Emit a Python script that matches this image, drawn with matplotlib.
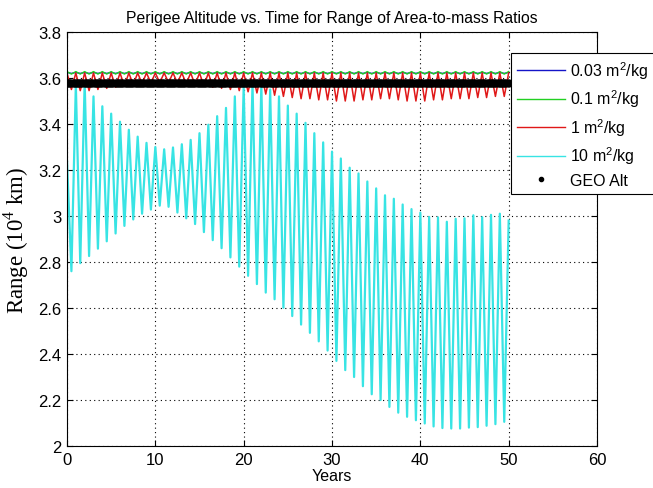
import numpy as np
import matplotlib
matplotlib.use("Agg")
import matplotlib.pyplot as plt
from matplotlib.ticker import FormatStrFormatter
from matplotlib.lines import Line2D

# values, range in 10^4 km
# each curve swings about once a year: maxima on whole years 0..50,
# minima half a year later (0.5..49.5); first/last maxima are the end points
cyan_peaks = [
    3.24,
    3.57, 3.58, 3.52, 3.477, 3.445, 3.41, 3.375, 3.345, 3.318, 3.30,
    3.29, 3.298, 3.312, 3.331, 3.36, 3.397, 3.434, 3.47, 3.52, 3.56,
    3.575, 3.57, 3.55, 3.52, 3.48, 3.445, 3.405, 3.36, 3.32, 3.28,
    3.25, 3.21, 3.185, 3.15, 3.12, 3.09, 3.075, 3.05, 3.03, 3.015,
    2.996, 2.994, 2.975, 2.988, 2.99, 3.003, 2.995, 3.005, 3.01, 2.98,
]
cyan_troughs = [
    2.76, 2.795, 2.826, 2.858, 2.89, 2.924, 2.957, 2.985, 3.01, 3.028,
    3.045, 3.04, 3.015, 2.99, 2.965, 2.93, 2.895, 2.86, 2.82, 2.78,
    2.74, 2.704, 2.667, 2.638, 2.601, 2.565, 2.528, 2.492, 2.455, 2.415,
    2.37, 2.33, 2.30, 2.26, 2.225, 2.20, 2.17, 2.145, 2.127, 2.112,
    2.098, 2.085, 2.078, 2.076, 2.076, 2.08, 2.082, 2.088, 2.095, 2.105,
]
red_peaks = [3.622] * 51
red_troughs = [
    3.55, 3.545, 3.545, 3.55, 3.555, 3.56, 3.565, 3.57, 3.575, 3.578,
    3.58, 3.58, 3.578, 3.575, 3.57, 3.565, 3.56, 3.555, 3.55, 3.545,
    3.54, 3.535, 3.53, 3.525, 3.52, 3.515, 3.51, 3.51, 3.505, 3.505,
    3.50, 3.50, 3.50, 3.505, 3.505, 3.51, 3.51, 3.505, 3.50, 3.50,
    3.50, 3.505, 3.505, 3.51, 3.51, 3.51, 3.515, 3.515, 3.52, 3.52,
]
green_peaks = [3.628] * 51
green_troughs = [3.617] * 50
blue_peaks = [3.624] * 51
blue_troughs = [3.620] * 50

geo_alt = 3.5786
geo_years = [0, 50]

labels = ["0.03 m$^{\\mathregular{2}}$/kg", "0.1 m$^{\\mathregular{2}}$/kg",
          "1 m$^{\\mathregular{2}}$/kg", "10 m$^{\\mathregular{2}}$/kg", "GEO Alt"]
colors = ["#1414c8", "#22d022", "#e01818", "#38e4e4", "black"]

x_ticks = [0, 10, 20, 30, 40, 50, 60]
y_ticks = [2, 2.2, 2.4, 2.6, 2.8, 3, 3.2, 3.4, 3.6, 3.8]


def zigzag(peaks, troughs):
    # interleave maxima and minima on a half-year grid
    t = np.arange(len(peaks) + len(troughs)) * 0.5
    y = np.empty(len(t))
    y[0::2] = peaks
    y[1::2] = troughs
    return t, y


plt.rcParams["font.family"] = ["Liberation Sans", "DejaVu Sans"]

fig = plt.figure(figsize=(6.53, 4.89), dpi=100)
ax = fig.add_axes([67 / 653, 42 / 489, 530 / 653, 414 / 489])

series = [(blue_peaks, blue_troughs), (green_peaks, green_troughs),
          (red_peaks, red_troughs), (cyan_peaks, cyan_troughs)]
widths = [1.0, 1.0, 1.1, 1.6]
for (pk, tr), c, w in zip(series, colors[:4], widths):
    t, y = zigzag(pk, tr)
    ax.plot(t, y, color=c, lw=w)

geo_t = np.linspace(geo_years[0], geo_years[1], 400)
ax.plot(geo_t, np.full(len(geo_t), geo_alt), ".", color="black", ms=9.5)

ax.set_xlim(0, 60)
ax.set_ylim(2, 3.8)
ax.set_xticks(x_ticks)
ax.set_yticks(y_ticks)
ax.yaxis.set_major_formatter(FormatStrFormatter("%g"))
ax.tick_params(direction="in", top=True, right=True, length=4, width=0.8,
               labelsize=12, pad=4)
ax.grid(True, linestyle=(0, (1, 3)), color="black", linewidth=0.8)
for s in ax.spines.values():
    s.set_linewidth(0.8)

ax.set_title("Perigee Altitude vs. Time for Range of Area-to-mass Ratios",
             fontsize=11.3, pad=7)
ax.set_xlabel("Years", fontsize=11.5, labelpad=1)
ax.set_ylabel("Range (10$^{\\mathregular{4}}$ km)", fontsize=16.5,
              family="Liberation Serif", labelpad=5)

handles = [Line2D([], [], color=c, lw=1.0) for c in colors[:4]]
handles.append(Line2D([], [], marker=".", ls="none", color="black", ms=6))
leg = ax.legend(handles, labels, loc="upper left",
                bbox_to_anchor=(511 / 653, 1 - 54 / 489),
                bbox_transform=fig.transFigure, fancybox=False,
                edgecolor="black", framealpha=1, fontsize=11.5,
                handlelength=3.0, handletextpad=0.3, labelspacing=0.42,
                borderpad=0.4, borderaxespad=0)
leg.get_frame().set_linewidth(0.8)

fig.savefig("out.png", dpi=100)
